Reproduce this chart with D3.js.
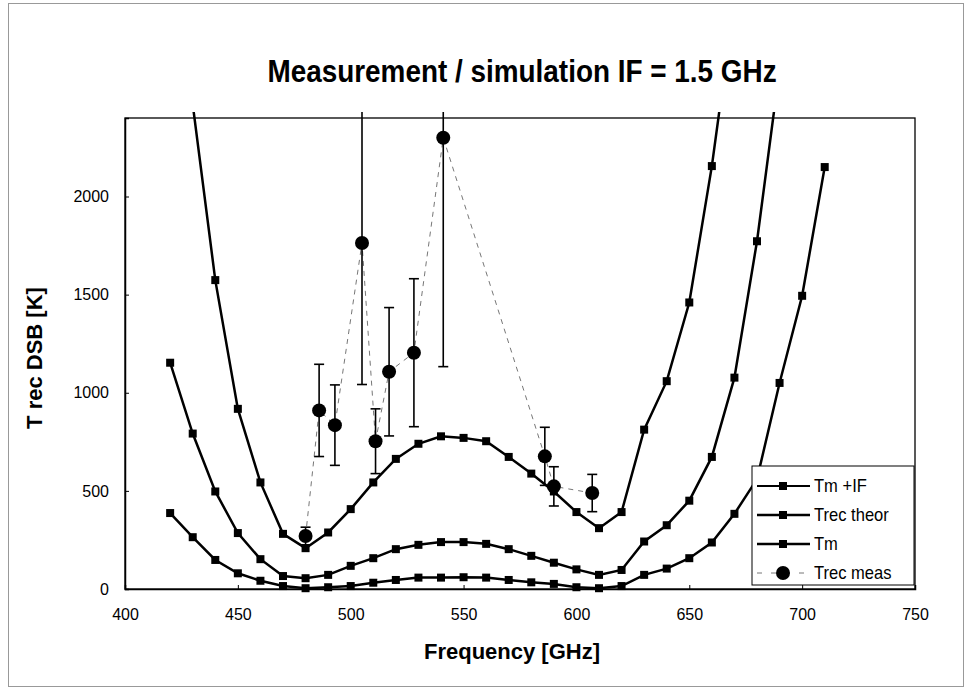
<!DOCTYPE html>
<html>
<head>
<meta charset="utf-8">
<script src="https://cdn.jsdelivr.net/npm/d3@7"></script>
<style>
  html, body { margin: 0; padding: 0; background: #fff; }
  svg { display: block; }
  text { font-family: "Liberation Sans", Arial, sans-serif; fill: #000; }
</style>
</head>
<body>
<svg id="chart" width="973" height="689"></svg>
<script>
// ---------------- data ----------------
const titleText = "Measurement / simulation IF = 1.5 GHz";
const xTitle = "Frequency [GHz]";
const yTitle = "T rec DSB [K]";
const xTicks = [400, 450, 500, 550, 600, 650, 700, 750];
const yTicks = [0, 500, 1000, 1500, 2000];

const freqTmIF = [430, 440, 450, 460, 470, 480, 490, 500, 510, 520, 530, 540, 550, 560, 570, 580, 590, 600, 610, 620, 630, 640, 650, 660, 670];
const valTmIF  = [2470, 1574, 918, 543, 281, 208, 288, 407, 543, 663, 740, 778, 770, 753, 673, 588, 497, 392, 310, 392, 812, 1059, 1460, 2155, 3000];

const freqTrec = [420, 430, 440, 450, 460, 470, 480, 490, 500, 510, 520, 530, 540, 550, 560, 570, 580, 590, 600, 610, 620, 630, 640, 650, 660, 670, 680, 690];
const valTrec  = [1153, 792, 497, 285, 152, 66, 55, 72, 118, 157, 203, 225, 239, 239, 230, 203, 169, 134, 100, 72, 97, 242, 325, 450, 673, 1077, 1772, 2650];

const freqTm = [420, 430, 440, 450, 460, 470, 480, 490, 500, 510, 520, 530, 540, 550, 560, 570, 580, 590, 600, 610, 620, 630, 640, 650, 660, 670, 680, 690, 700, 710];
const valTm  = [387, 264, 148, 80, 42, 15, 4, 9, 15, 32, 46, 58, 58, 60, 58, 46, 34, 26, 9, 4, 15, 72, 104, 157, 237, 383, 560, 1050, 1494, 2150];

const freqMeas = [480, 486, 493, 505, 511, 517, 528, 541, 586, 590, 607];
const valMeas  = [270, 910, 835, 1763, 753, 1107, 1204, 2299, 676, 523, 489];
const errMeas  = [45, 235, 205, 721, 165, 327, 377, 1166, 148, 100, 95];

const legendLabels = ["Tm +IF", "Trec theor", "Tm", "Trec meas"];

// ---------------- layout ----------------
const svg = d3.select("#chart");
const plot = { left: 125, right: 915, top: 118, bottom: 589 };

const x = d3.scaleLinear().domain([400, 750]).range([plot.left, plot.right]);
const y = d3.scaleLinear().domain([0, 2400]).range([plot.bottom, plot.top]);

// outer chart frame
svg.append("rect").attr("x", 8.5).attr("y", 3.5).attr("width", 955).attr("height", 683)
  .attr("fill", "none").attr("stroke", "#999").attr("stroke-width", 1);

// plot border
svg.append("rect").attr("x", plot.left).attr("y", plot.top)
  .attr("width", plot.right - plot.left).attr("height", plot.bottom - plot.top)
  .attr("fill", "none").attr("stroke", "#000").attr("stroke-width", 1.3);

// axes
const xAxis = d3.axisBottom(x).tickValues(xTicks).tickSize(-4).tickPadding(20).tickFormat(d3.format("d"));
const gx = svg.append("g").attr("transform", `translate(0,${plot.bottom})`).call(xAxis);
gx.select(".domain").attr("stroke", "#000").attr("stroke-width", 1.5);
gx.selectAll(".tick line").attr("stroke", "#000");
gx.selectAll(".tick text").attr("font-size", 16).attr("font-family", "'Liberation Sans', Arial, sans-serif").attr("fill", "#000");

const yAxis = d3.axisLeft(y).tickValues(yTicks).tickSize(-4).tickPadding(16).tickFormat(d3.format("d"));
const gy = svg.append("g").attr("transform", `translate(${plot.left},0)`).call(yAxis);
gy.select(".domain").attr("stroke", "#000").attr("stroke-width", 1.5);
gy.selectAll(".tick line").attr("stroke", "#000");
gy.selectAll(".tick text").attr("font-size", 16).attr("font-family", "'Liberation Sans', Arial, sans-serif").attr("fill", "#000");

// titles
svg.append("text").attr("transform", "translate(522,82) scale(0.9,1)").attr("text-anchor", "middle")
  .attr("font-size", 31).attr("font-weight", "bold")
  .text(titleText);
svg.append("text").attr("x", 512).attr("y", 659).attr("text-anchor", "middle")
  .attr("font-size", 22).attr("font-weight", "bold").text(xTitle);
svg.append("text").attr("transform", "translate(42,358) rotate(-90)").attr("text-anchor", "middle")
  .attr("font-size", 22).attr("font-weight", "bold").text(yTitle);

// clip
svg.append("defs").append("clipPath").attr("id", "clip")
  .append("rect").attr("x", plot.left).attr("y", plot.top - 6)
  .attr("width", plot.right - plot.left).attr("height", plot.bottom - plot.top + 12);

const gData = svg.append("g").attr("clip-path", "url(#clip)");
const line = d3.line().x(d => x(d[0])).y(d => y(d[1]));

// measurement dashed connection
const meas = freqMeas.map((f, i) => [f, valMeas[i], errMeas[i]]);
gData.append("path").datum(meas).attr("d", line)
  .attr("fill", "none").attr("stroke", "#777").attr("stroke-width", 1).attr("stroke-dasharray", "5,5");

// model series
const series = [
  { f: freqTmIF, v: valTmIF },
  { f: freqTrec, v: valTrec },
  { f: freqTm, v: valTm }
];
series.forEach(s => {
  const pts = s.f.map((f, i) => [f, s.v[i]]);
  gData.append("path").datum(pts).attr("d", line)
    .attr("fill", "none").attr("stroke", "#000").attr("stroke-width", 2.5);
  gData.selectAll(null).data(pts.filter(p => p[1] <= 2400)).enter().append("rect")
    .attr("x", d => x(d[0]) - 4).attr("y", d => y(d[1]) - 4)
    .attr("width", 8).attr("height", 8).attr("fill", "#000");
});

// error bars
const eb = gData.selectAll(".eb").data(meas).enter().append("g");
eb.append("line").attr("x1", d => x(d[0])).attr("x2", d => x(d[0]))
  .attr("y1", d => y(d[1] - d[2])).attr("y2", d => y(d[1] + d[2]))
  .attr("stroke", "#000").attr("stroke-width", 1.6);
eb.append("line").attr("x1", d => x(d[0]) - 5).attr("x2", d => x(d[0]) + 5)
  .attr("y1", d => y(d[1] - d[2])).attr("y2", d => y(d[1] - d[2]))
  .attr("stroke", "#000").attr("stroke-width", 1.6);
eb.filter(d => d[1] + d[2] <= 2400).append("line").attr("x1", d => x(d[0]) - 5).attr("x2", d => x(d[0]) + 5)
  .attr("y1", d => y(d[1] + d[2])).attr("y2", d => y(d[1] + d[2]))
  .attr("stroke", "#000").attr("stroke-width", 1.6);
gData.selectAll(".mc").data(meas).enter().append("circle")
  .attr("cx", d => x(d[0])).attr("cy", d => y(d[1])).attr("r", 7).attr("fill", "#000");

// legend
const lg = svg.append("g");
lg.append("rect").attr("x", 752).attr("y", 466).attr("width", 162).attr("height", 119)
  .attr("fill", "#fff").attr("stroke", "#000").attr("stroke-width", 1);
const rowY = [486, 515, 544, 573];
legendLabels.forEach((lab, i) => {
  const yy = rowY[i];
  if (i < 3) {
    lg.append("line").attr("x1", 757).attr("x2", 810).attr("y1", yy).attr("y2", yy)
      .attr("stroke", "#000").attr("stroke-width", i === 0 ? 1.8 : 2.5);
    lg.append("rect").attr("x", 783 - 4).attr("y", yy - 4).attr("width", 8).attr("height", 8).attr("fill", "#000");
  } else {
    lg.append("line").attr("x1", 757).attr("x2", 810).attr("y1", yy).attr("y2", yy)
      .attr("stroke", "#777").attr("stroke-width", 1).attr("stroke-dasharray", "5,9");
    lg.append("circle").attr("cx", 783).attr("cy", yy).attr("r", 7).attr("fill", "#000");
  }
  lg.append("text").attr("transform", `translate(814,${yy + 6}) scale(0.92,1)`).attr("font-size", 18).text(lab);
});
</script>
</body>
</html>
